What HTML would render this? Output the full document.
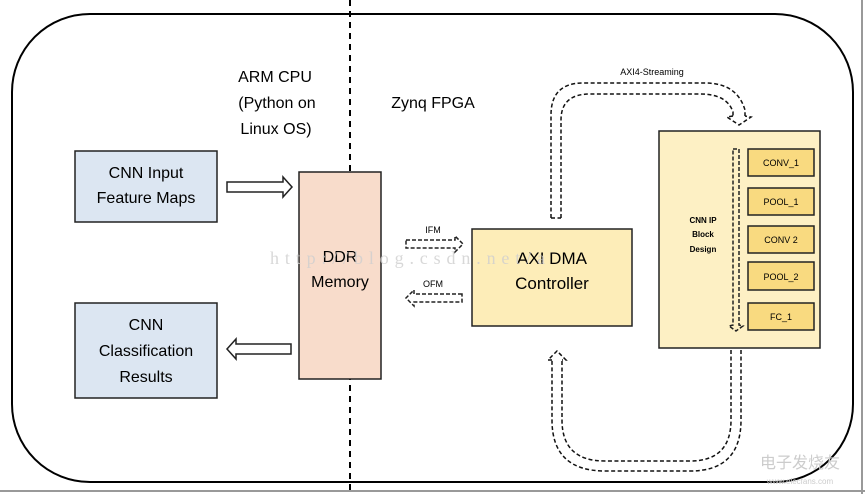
<!DOCTYPE html>
<html><head><meta charset="utf-8"><style>
html,body{margin:0;padding:0;background:#fff;}
svg{display:block;font-family:"Liberation Sans",sans-serif;}
</style></head><body>
<svg width="865" height="494" viewBox="0 0 865 494" xmlns="http://www.w3.org/2000/svg">
<rect x="0" y="0" width="865" height="494" fill="#fff"/>
<line x1="0" y1="491" x2="865" y2="491" stroke="#999" stroke-width="2"/>
<line x1="862" y1="0" x2="862" y2="494" stroke="#999" stroke-width="2"/>
<rect x="12" y="14" width="841" height="468" rx="78" ry="78" fill="none" stroke="#000" stroke-width="2"/>
<line x1="350" y1="0" x2="350" y2="494" stroke="#000" stroke-width="2" stroke-dasharray="6,5"/>

<g font-size="16" fill="#000" text-anchor="middle">
<text x="275" y="82">ARM CPU</text>
<text x="277" y="108">(Python on</text>
<text x="276" y="134">Linux OS)</text>
<text x="433" y="108">Zynq FPGA</text>
</g>

<rect x="75" y="151" width="142" height="71" fill="#dce6f2" stroke="#222" stroke-width="1.5"/>
<text x="146" y="178" font-size="16" text-anchor="middle">CNN Input</text>
<text x="146" y="203" font-size="16" text-anchor="middle">Feature Maps</text>

<rect x="75" y="303" width="142" height="95" fill="#dce6f2" stroke="#222" stroke-width="1.5"/>
<text x="146" y="330" font-size="16" text-anchor="middle">CNN</text>
<text x="146" y="356" font-size="16" text-anchor="middle">Classification</text>
<text x="146" y="382" font-size="16" text-anchor="middle">Results</text>

<rect x="299" y="172" width="82" height="207" fill="#f8dccb" stroke="#222" stroke-width="1.5"/>
<text x="340" y="262" font-size="16" text-anchor="middle">DDR</text>
<text x="340" y="287" font-size="16" text-anchor="middle">Memory</text>

<rect x="472" y="229" width="160" height="97" fill="#fdedb8" stroke="#222" stroke-width="1.5"/>
<text x="552" y="264" font-size="17" text-anchor="middle">AXI DMA</text>
<text x="552" y="289" font-size="17" text-anchor="middle">Controller</text>

<rect x="659" y="131" width="161" height="217" fill="#fdf0c4" stroke="#222" stroke-width="1.5"/>
<g font-size="8" font-weight="bold" text-anchor="middle">
<text x="703" y="223">CNN IP</text>
<text x="703" y="237">Block</text>
<text x="703" y="252">Design</text>
</g>
<g fill="#f9da80" stroke="#222" stroke-width="1.5">
<rect x="748" y="149" width="66" height="27"/>
<rect x="748" y="188" width="66" height="27"/>
<rect x="748" y="226" width="66" height="27"/>
<rect x="748" y="262" width="66" height="28"/>
<rect x="748" y="303" width="66" height="27"/>
</g>
<g font-size="9" text-anchor="middle">
<text x="781" y="166">CONV_1</text>
<text x="781" y="205">POOL_1</text>
<text x="781" y="243">CONV  2</text>
<text x="781" y="280">POOL_2</text>
<text x="781" y="320">FC_1</text>
</g>
<path d="M733,149 H739 V325 L743,326 L736,331 L729,326 L733,325 Z" fill="none" stroke="#222" stroke-width="1.5" stroke-dasharray="4,2"/>

<path d="M227,182 H283 V177 L292,187 L283,197 V192 H227 Z" fill="#fff" stroke="#222" stroke-width="1.5"/>
<path d="M291,344 H236 V339 L227,349 L236,359 V354 H291 Z" fill="#fff" stroke="#222" stroke-width="1.5"/>

<text x="433" y="233" font-size="9" text-anchor="middle">IFM</text>
<path d="M406,240 H455 V236 L463,244 L455,252 V248 H406 Z" fill="none" stroke="#222" stroke-width="1.5" stroke-dasharray="4,2"/>
<text x="433" y="287" font-size="9" text-anchor="middle">OFM</text>
<path d="M462,294 H414 V290 L406,298 L414,306 V302 H462 Z" fill="none" stroke="#222" stroke-width="1.5" stroke-dasharray="4,2"/>

<text x="652" y="75" font-size="9" text-anchor="middle">AXI4-Streaming</text>
<g fill="none" stroke="#111" stroke-width="1.5" stroke-dasharray="4,2.5">
<path d="M551,218 V115 Q551,83 583,83 H705 Q737,83 745,110 V116"/>
<path d="M561,218 V120 Q561,94 590,94 H700 Q727,94 733,112 V116"/>
<path d="M551,218 H561"/>
<path d="M733,116 L727,117 L739,125 L751,117 L745,116"/>
</g>

<g fill="none" stroke="#111" stroke-width="1.5" stroke-dasharray="4,2.5">
<path d="M741,350 V420 Q741,471 690,471 H605 Q552,471 552,420 V360"/>
<path d="M731,350 V420 Q731,461 690,461 H605 Q562,461 562,420 V360"/>
<path d="M552,360 L548,360 L557,351 L566,360 L562,360"/>
</g>

<text x="270" y="264" font-size="18" fill="#cfcfcf" font-family="Liberation Serif,serif" textLength="275" opacity="0.8">http://blog.csdn.net/a</text>
<text x="800" y="468" font-size="16" fill="#ccc" text-anchor="middle" font-family="Liberation Sans, 'Noto Sans CJK SC', sans-serif">电子发烧友</text>
<text x="800" y="484" font-size="8" fill="#ccc" text-anchor="middle">www.elecfans.com</text>
</svg>
</body></html>
